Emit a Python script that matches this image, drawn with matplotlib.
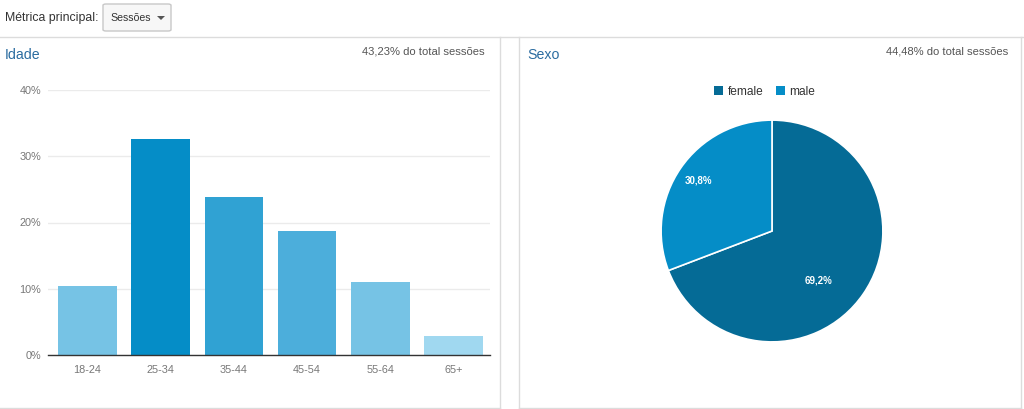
import matplotlib
matplotlib.use("Agg")
import matplotlib.pyplot as plt
from matplotlib.patches import Rectangle, FancyBboxPatch, Polygon
from matplotlib.lines import Line2D
import numpy as np

plt.rcParams['font.family'] = ['Liberation Sans', 'DejaVu Sans']

# ---- data ----
age_groups = ['18-24', '25-34', '35-44', '45-54', '55-64', '65+']
age_values = [10.4, 32.6, 23.8, 18.7, 11.0, 2.9]
age_colors = ['#76c3e5', '#058dc7', '#30a2d3', '#4caedb', '#76c3e5', '#a0d8f0']
y_ticks = [0, 10, 20, 30, 40]

sex_labels = ['female', 'male']
sex_values = [69.2, 30.8]
sex_colors = ['#056b96', '#058dc7']

W, H = 1024, 409
fig = plt.figure(figsize=(W / 100, H / 100), dpi=100)
fig.patch.set_facecolor('white')

def fx(x):
    return x / W

def fy(y):
    return 1 - y / H

def box(l, t, r, b):
    return [fx(l), fy(b), fx(r) - fx(l), fy(t) - fy(b)]

border = '#dcdcdc'
# panel borders
fig.add_artist(Line2D([0, 1], [fy(37), fy(37)], color=border, lw=1))
fig.add_artist(Line2D([fx(500), fx(500)], [fy(37), fy(408)], color=border, lw=1))
fig.add_artist(Line2D([0, fx(500)], [fy(408), fy(408)], color=border, lw=1))
fig.add_artist(Line2D([fx(519), fx(519)], [fy(37), fy(408)], color=border, lw=1))
fig.add_artist(Line2D([fx(1021), fx(1021)], [fy(37), fy(408)], color=border, lw=1))
fig.add_artist(Line2D([fx(519), fx(1021)], [fy(408), fy(408)], color=border, lw=1))

# header
fig.text(fx(5), fy(18), 'Métrica principal:', fontsize=8.8, color='#333333', va='center', ha='left')
fig.add_artist(FancyBboxPatch((fx(103), fy(31)), fx(171) - fx(103), fy(4) - fy(31),
                              boxstyle='round,pad=0,rounding_size=0.003',
                              facecolor='#f7f7f7', edgecolor='#c8c8c8', lw=1,
                              transform=fig.transFigure))
fig.text(fx(110), fy(18), 'Sessões', fontsize=7.6, color='#333333', va='center', ha='left')
fig.add_artist(Polygon([[fx(157), fy(16)], [fx(165), fy(16)], [fx(161), fy(20)]],
                       closed=True, facecolor='#555555', edgecolor='none',
                       transform=fig.transFigure))

# panel titles
fig.text(fx(5), fy(55), 'Idade', fontsize=10.2, color='#2a6ca0', va='center', ha='left')
fig.text(fx(485), fy(52), '43,23% do total sessões', fontsize=8.1, color='#555555', va='center', ha='right')
fig.text(fx(527), fy(55), 'Sexo', fontsize=10.2, color='#2a6ca0', va='center', ha='left')
fig.text(fx(1008), fy(52), '44,48% do total sessões', fontsize=8.1, color='#555555', va='center', ha='right')

# ---- bar chart ----
ax = fig.add_axes(box(48, 90, 490, 355))
x = np.arange(len(age_groups))
ax.bar(x, age_values, width=0.8, color=age_colors, zorder=3)
ax.set_xlim(-0.54, 5.5)
ax.set_ylim(0, 40)
ax.set_yticks(y_ticks)
ax.set_yticklabels([f'{v}%' for v in y_ticks])
ax.set_xticks(x)
ax.set_xticklabels(age_groups)
ax.grid(axis='y', color='#ebebeb', lw=1, zorder=0)
for s in ['top', 'right', 'left']:
    ax.spines[s].set_visible(False)
ax.spines['bottom'].set_color('#333333')
ax.spines['bottom'].set_linewidth(1)
ax.spines['bottom'].set_zorder(4)
ax.tick_params(axis='both', length=0, labelsize=7.8, labelcolor='#777777')
ax.tick_params(axis='y', pad=5)
ax.tick_params(axis='x', pad=7)

# ---- pie chart ----
pax = fig.add_axes(box(660, 119, 884, 343))
wedges, texts, autotexts = pax.pie(sex_values, colors=sex_colors, startangle=90,
                                   counterclock=False,
                                   autopct=lambda p: f'{p:.1f}%'.replace('.', ','),
                                   pctdistance=0.8,
                                   wedgeprops=dict(edgecolor='white', linewidth=1.2),
                                   textprops=dict(color='white', fontsize=7, fontweight='bold'))
# Google-charts style label placement for the large slice
w0 = wedges[0]
ang = np.deg2rad(w0.theta1 + 0.45 * (w0.theta2 - w0.theta1))
autotexts[0].set_position((0.61 * np.cos(ang), 0.61 * np.sin(ang)))
pax.set_xlim(-1.01, 1.01)
pax.set_ylim(-1.01, 1.01)
pax.set_aspect('equal')

# legend
handles = [Rectangle((0, 0), 1, 1, facecolor=c) for c in sex_colors]
fig.legend(handles, sex_labels, loc='center', bbox_to_anchor=(fx(765), fy(92)),
           ncol=2, frameon=False, fontsize=8.6, handlelength=0.75, handleheight=0.75,
           handletextpad=0.4, columnspacing=1.0, labelcolor='#333333')

fig.savefig('out.png', dpi=100, facecolor='white')
